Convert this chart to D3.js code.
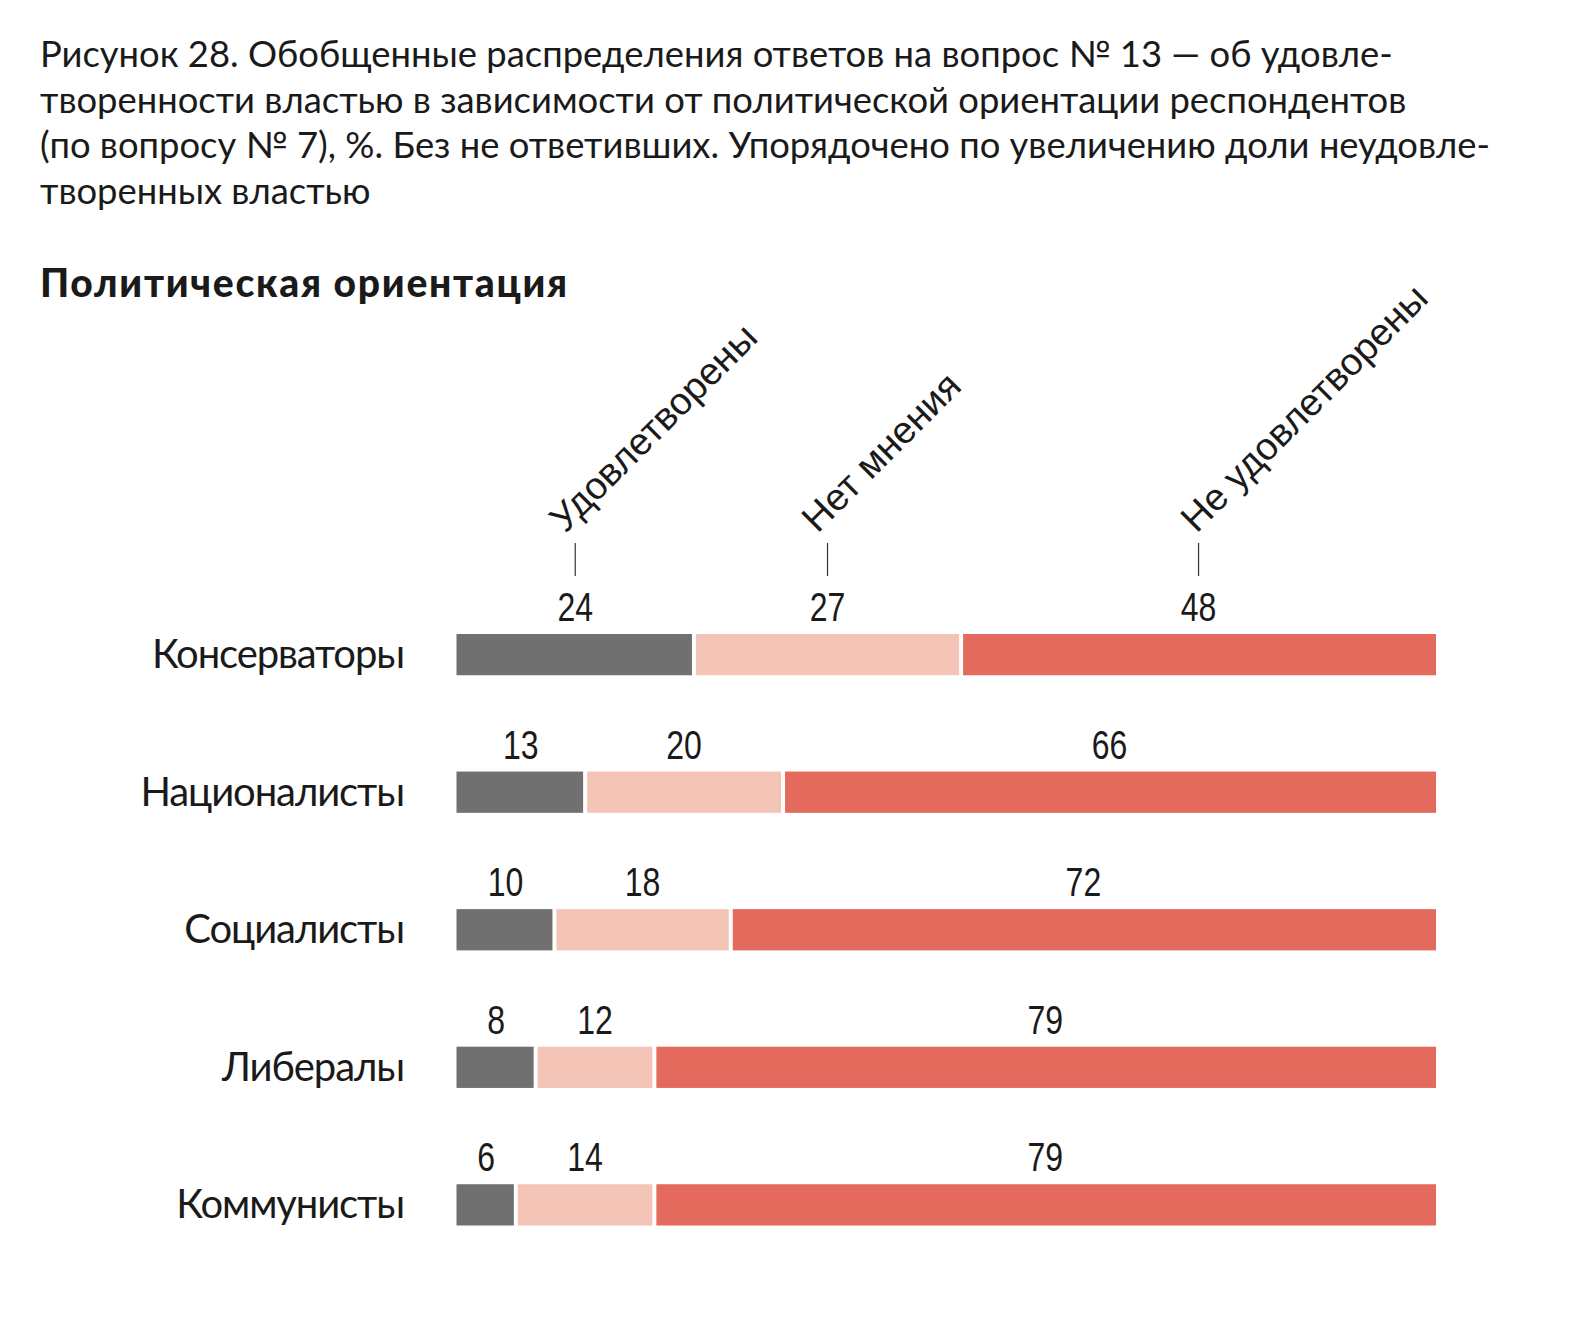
<!DOCTYPE html>
<html><head><meta charset="utf-8">
<script src="https://cdn.jsdelivr.net/npm/d3@7"></script>
<style>
html,body{margin:0;padding:0;background:#fff;}
svg{display:block;}
</style></head>
<body>
<div id="chart"></div>
<script>
const titleLines = [
  "Рисунок 28. Обобщенные распределения ответов на вопрос № 13 — об удовле-",
  "творенности властью в зависимости от политической ориентации респондентов",
  "(по вопросу № 7), %. Без не ответивших. Упорядочено по увеличению доли неудовле-",
  "творенных властью"
];
const subtitle = "Политическая ориентация";
const categories = ["Консерваторы", "Националисты", "Социалисты", "Либералы", "Коммунисты"];
const seriesNames = ["Удовлетворены", "Нет мнения", "Не удовлетворены"];
const satisfied    = [24, 13, 10, 8, 6];
const noOpinion    = [27, 20, 18, 12, 14];
const dissatisfied = [48, 66, 72, 79, 79];
const colors = ["#707070", "#f4c4b7", "#e46a5d"];

const W = 1583, H = 1321;
const svg = d3.select("#chart").append("svg").attr("width", W).attr("height", H);
svg.append("rect").attr("width", W).attr("height", H).attr("fill", "#fff");

const mainFont = "Lato, 'Noto Sans', sans-serif";
const numFont = "'Liberation Sans', Arial, sans-serif";

// Title
const t = svg.append("text").attr("x", 40).attr("y", 67)
  .attr("font-family", mainFont).attr("font-size", 36.4).attr("fill", "#1a1a1a");
titleLines.forEach((l, i) => t.append("tspan").attr("x", 40).attr("y", 67 + i * 45.5).text(l));

svg.append("text").attr("x", 40).attr("y", 297)
  .attr("font-family", mainFont).attr("font-size", 39).attr("font-weight", 900)
  .attr("letter-spacing", 1.7)
  .attr("fill", "#1a1a1a").text(subtitle);

// data table
const rows = categories.map((c, i) => ({
  cat: c, [seriesNames[0]]: satisfied[i], [seriesNames[1]]: noOpinion[i], [seriesNames[2]]: dissatisfied[i]
}));
const stack = d3.stack().keys(seriesNames).offset(d3.stackOffsetExpand);
const series = stack(rows);

const x = d3.scaleLinear().domain([0, 1]).range([456.5, 1436]);
const y = d3.scaleBand().domain(categories).range([634, 1225.5]).paddingInner(0.7).paddingOuter(0);
const gap = 2;

const g = svg.append("g");
series.forEach((s, si) => {
  g.selectAll(null).data(s).enter().append("rect")
    .attr("x", d => x(d[0]) + (si > 0 ? gap : 0))
    .attr("width", d => x(d[1]) - x(d[0]) - (si > 0 ? gap : 0) - (si < series.length - 1 ? gap : 0))
    .attr("y", d => y(d.data.cat))
    .attr("height", y.bandwidth())
    .attr("fill", colors[si]);
  g.selectAll(null).data(s).enter().append("text")
    .attr("transform", d => `translate(${x((d[0] + d[1]) / 2)},${y(d.data.cat) - 13}) scale(0.8,1)`)
    .attr("text-anchor", "middle")
    .attr("font-family", numFont).attr("font-size", 40).attr("fill", "#1a1a1a")
    .text(d => d.data[s.key]);
});

// row labels
svg.selectAll(null).data(categories).enter().append("text")
  .attr("x", 404).attr("y", d => y(d) + y.bandwidth() / 2 + 13.6)
  .attr("text-anchor", "end")
  .attr("font-family", mainFont).attr("font-size", 40).attr("letter-spacing", -1.1)
  .attr("fill", "#1a1a1a")
  .text(d => d);

// column headers with ticks, aligned to the first row
const first = categories[0];
series.forEach((s, si) => {
  const d = s[0];
  const cx = x((d[0] + d[1]) / 2);
  const top = y(first);
  svg.append("line").attr("x1", cx).attr("x2", cx).attr("y1", top - 91).attr("y2", top - 58)
    .attr("stroke", "#333").attr("stroke-width", 1.2);
  svg.append("text")
    .attr("transform", `translate(${cx - 10 + (si === 2 ? 8 : 0)},${top - 100}) rotate(-45)`)
    .attr("font-family", "'Liberation Sans', Arial, sans-serif").attr("font-size", 38).attr("fill", "#1a1a1a")
    .text(s.key);
});
</script>
</body></html>
